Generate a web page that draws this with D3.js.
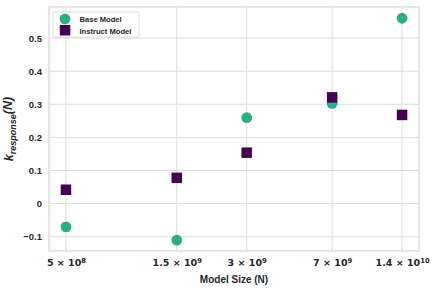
<!DOCTYPE html>
<html>
<head>
<meta charset="utf-8">
<script src="https://cdn.jsdelivr.net/npm/d3@7"></script>
<style>
  body { margin: 0; background: #fff; }
  text { font-family: "Liberation Sans", Arial, sans-serif; fill: #262626; }
</style>
</head>
<body>
<div id="chart"></div>
<script>
// data
var sizes = [5e8, 1.5e9, 3e9, 7e9, 1.4e10];
var sizeLabels = ["5", "1.5", "3", "7", "1.4"];
var sizeExps = ["8", "9", "9", "9", "10"];
var baseValues = [-0.070, -0.110, 0.260, 0.303, 0.560];
var instructValues = [0.042, 0.078, 0.154, 0.321, 0.268];
var yTicks = [-0.1, 0, 0.1, 0.2, 0.3, 0.4, 0.5];

var margin = { top: 7, right: 19, bottom: 40, left: 49 },
  width = 438 - margin.left - margin.right,
  height = 291 - margin.top - margin.bottom;

var svg = d3.select("#chart").append("svg")
  .attr("width", 438)
  .attr("height", 291)
  .append("g")
  .attr("transform", "translate(" + margin.left + "," + margin.top + ")");

var x = d3.scaleLog()
  .domain([Math.pow(10, 8.626), Math.pow(10, 10.219)])
  .range([0, width]);

var y = d3.scaleLinear()
  .domain([-0.143, 0.594])
  .range([height, 0]);

// grid
svg.selectAll(".gx").data(sizes).enter().append("line")
  .attr("x1", function (d) { return x(d); })
  .attr("x2", function (d) { return x(d); })
  .attr("y1", 0).attr("y2", height)
  .attr("stroke", "#dcdcdc").attr("stroke-width", 1);
svg.selectAll(".gy").data(yTicks).enter().append("line")
  .attr("x1", 0).attr("x2", width)
  .attr("y1", function (d) { return y(d); })
  .attr("y2", function (d) { return y(d); })
  .attr("stroke", "#dcdcdc").attr("stroke-width", 1);

// frame
svg.append("rect")
  .attr("width", width).attr("height", height)
  .attr("fill", "none").attr("stroke", "#d6d6d6").attr("stroke-width", 1.2);

// y axis
var yAxis = svg.append("g")
  .call(d3.axisLeft(y).tickValues(yTicks).tickSize(0).tickPadding(7)
    .tickFormat(function (d) { return d === 0 ? "0" : d3.format(".1f")(d); }));
yAxis.select(".domain").remove();
yAxis.selectAll("text")
  .style("font-size", "9.5px").style("font-weight", "bold").attr("fill", "#262626");

// x axis
var xAxis = svg.append("g")
  .attr("transform", "translate(0," + height + ")")
  .call(d3.axisBottom(x).tickValues(sizes).tickSize(0).tickPadding(8).tickFormat(""));
xAxis.select(".domain").remove();
xAxis.selectAll(".tick").each(function (d, i) {
  var t = d3.select(this).select("text")
    .style("font-family", "'DejaVu Sans', sans-serif")
    .style("font-size", "9.5px").style("font-weight", "bold").attr("fill", "#262626");
  t.append("tspan").text(sizeLabels[i] + " \u00d7 10");
  t.append("tspan").text(sizeExps[i]).attr("dy", "-0.45em").style("font-size", "6.8px");
});

// axis labels
svg.append("text")
  .attr("x", width / 2).attr("y", height + 32)
  .attr("text-anchor", "middle")
  .style("font-size", "10px").style("font-weight", "bold")
  .text("Model Size (N)");

var yl = svg.append("text")
  .attr("transform", "translate(" + (-36) + "," + (height / 2) + ") rotate(-90)")
  .attr("text-anchor", "middle")
  .style("font-size", "12.5px").style("font-weight", "bold").style("font-style", "italic");
yl.append("tspan").text("k");
yl.append("tspan").text("response").attr("dy", "0.3em").style("font-size", "9px");
yl.append("tspan").text("(N)").attr("dy", "-0.3em");

// points
svg.selectAll(".base").data(baseValues).enter().append("circle")
  .attr("cx", function (d, i) { return x(sizes[i]); })
  .attr("cy", function (d) { return y(d); })
  .attr("r", 5.4)
  .attr("fill", "#2ab07f");

var sq = 10.5;
svg.selectAll(".inst").data(instructValues).enter().append("rect")
  .attr("x", function (d, i) { return x(sizes[i]) - sq / 2; })
  .attr("y", function (d) { return y(d) - sq / 2; })
  .attr("width", sq).attr("height", sq)
  .attr("fill", "#440154");

// legend
var lg = svg.append("g").attr("transform", "translate(4,5)");
lg.append("rect")
  .attr("width", 86).attr("height", 25).attr("rx", 2)
  .attr("fill", "#fff").attr("stroke", "#d6d6d6").attr("stroke-width", 0.8);
lg.append("circle").attr("cx", 12).attr("cy", 7).attr("r", 5.4).attr("fill", "#2ab07f");
lg.append("rect").attr("x", 6.8).attr("y", 13).attr("width", 10.5).attr("height", 10.5).attr("fill", "#440154");
lg.append("text").attr("x", 26.5).attr("y", 9.5)
  .style("font-size", "7.6px").style("font-weight", "bold").text("Base Model");
lg.append("text").attr("x", 26.5).attr("y", 21.5)
  .style("font-size", "7.6px").style("font-weight", "bold").text("Instruct Model");
</script>
</body>
</html>
